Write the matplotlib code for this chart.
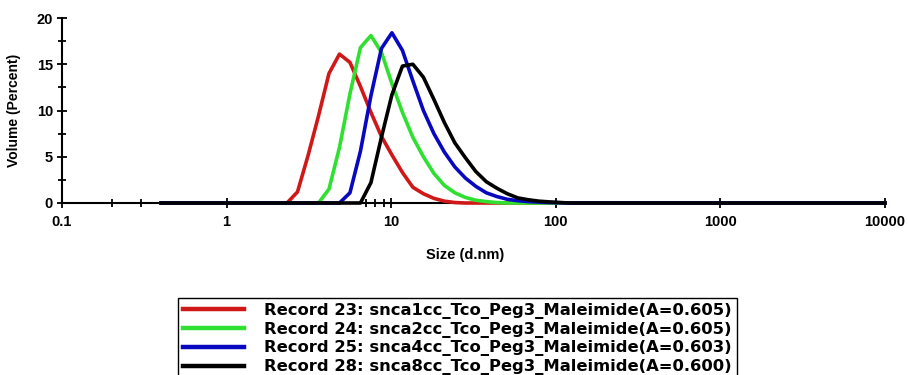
import matplotlib
matplotlib.use("Agg")
import matplotlib.pyplot as plt
from matplotlib.ticker import FixedLocator, NullFormatter

plt.rcParams['font.family'] = ['Liberation Sans', 'DejaVu Sans']

# Size bins (d.nm) of the size distribution
sizes = [0.4, 0.4632, 0.5365, 0.6213, 0.7195, 0.8332, 0.9649, 1.117, 1.294, 1.499,
         1.736, 2.010, 2.328, 2.696, 3.122, 3.615, 4.187, 4.849, 5.615, 6.503,
         7.531, 8.721, 10.10, 11.70, 13.54, 15.69, 18.17, 21.04, 24.36, 28.21,
         32.67, 37.84, 43.82, 50.75, 58.77, 68.06, 78.82, 91.28, 105.7, 122.4,
         141.8, 164.2, 190.1, 220.2, 255.0, 295.3, 342.0, 396.1, 458.7, 531.2,
         615.1, 712.4, 825.0, 955.4, 1106, 1281, 1484, 1718, 1990, 2305,
         2669, 3091, 3580, 4145, 4801, 5560, 6439, 7456, 8635, 10000]

# Volume (%) per bin for each record
record23 = [0, 0, 0, 0, 0, 0, 0, 0, 0, 0,
            0, 0, 0, 1.2, 5.1, 9.4, 14.0, 16.1, 15.2, 12.6,
            9.8, 7.2, 5.2, 3.3, 1.7, 1.0, 0.5, 0.2, 0.05, 0,
            0, 0, 0, 0, 0, 0, 0, 0, 0, 0,
            0, 0, 0, 0, 0, 0, 0, 0, 0, 0,
            0, 0, 0, 0, 0, 0, 0, 0, 0, 0,
            0, 0, 0, 0, 0, 0, 0, 0, 0, 0]
record24 = [0, 0, 0, 0, 0, 0, 0, 0, 0, 0,
            0, 0, 0, 0, 0, 0, 1.5, 6.0, 11.8, 16.8,
            18.1, 16.3, 12.9, 9.8, 7.1, 5.0, 3.2, 1.9, 1.1, 0.6,
            0.3, 0.15, 0.05, 0, 0, 0, 0, 0, 0, 0,
            0, 0, 0, 0, 0, 0, 0, 0, 0, 0,
            0, 0, 0, 0, 0, 0, 0, 0, 0, 0,
            0, 0, 0, 0, 0, 0, 0, 0, 0, 0]
record25 = [0, 0, 0, 0, 0, 0, 0, 0, 0, 0,
            0, 0, 0, 0, 0, 0, 0, 0, 1.1, 5.6,
            11.6, 16.7, 18.4, 16.5, 13.2, 10.0, 7.5, 5.5, 3.9, 2.7,
            1.8, 1.1, 0.7, 0.4, 0.25, 0.15, 0.1, 0.05, 0.03, 0,
            0, 0, 0, 0, 0, 0, 0, 0, 0, 0,
            0, 0, 0, 0, 0, 0, 0, 0, 0, 0,
            0, 0, 0, 0, 0, 0, 0, 0, 0, 0]
record28 = [0, 0, 0, 0, 0, 0, 0, 0, 0, 0,
            0, 0, 0, 0, 0, 0, 0, 0, 0, 0,
            2.2, 7.1, 11.7, 14.8, 15.0, 13.6, 11.2, 8.7, 6.5, 4.9,
            3.4, 2.3, 1.6, 1.0, 0.55, 0.35, 0.2, 0.12, 0.05, 0,
            0, 0, 0, 0, 0, 0, 0, 0, 0, 0,
            0, 0, 0, 0, 0, 0, 0, 0, 0, 0,
            0, 0, 0, 0, 0, 0, 0, 0, 0, 0]

labels = [
    "Record 23: snca1cc_Tco_Peg3_Maleimide(A=0.605)",
    "Record 24: snca2cc_Tco_Peg3_Maleimide(A=0.605)",
    "Record 25: snca4cc_Tco_Peg3_Maleimide(A=0.603)",
    "Record 28: snca8cc_Tco_Peg3_Maleimide(A=0.600)",
]
colors = ["#d01818", "#30e030", "#0808c0", "#000000"]

x_ticks = [0.1, 1, 10, 100, 1000, 10000]
x_ticklabels = ["0.1", "1", "10", "100", "1000", "10000"]
y_ticks = [0, 5, 10, 15, 20]

W, H = 908, 375
fig = plt.figure(figsize=(W / 100, H / 100), dpi=100)
ax = fig.add_axes([62 / W, 1 - 203 / H, (885 - 62) / W, (203 - 18) / H])

for vals, col, lab in zip([record23, record24, record25, record28], colors, labels):
    ax.plot(sizes, vals, color=col, lw=2.6, label=lab, clip_on=False,
            solid_joinstyle='round', zorder=3)

ax.set_xscale('log')
ax.set_xlim(0.1, 10000)
ax.set_ylim(0, 20)

ax.xaxis.set_major_locator(FixedLocator(x_ticks))
ax.set_xticklabels(x_ticklabels)
ax.xaxis.set_minor_locator(FixedLocator([0.2, 0.3, 7, 8, 9]))
ax.xaxis.set_minor_formatter(NullFormatter())
ax.yaxis.set_major_locator(FixedLocator(y_ticks))
ax.yaxis.set_minor_locator(FixedLocator([2.5, 7.5, 12.5, 17.5]))

for side in ('top', 'right'):
    ax.spines[side].set_visible(False)
for side in ('left', 'bottom'):
    ax.spines[side].set_linewidth(1.5)
    ax.spines[side].set_color('black')

ax.tick_params(axis='both', which='both', direction='inout', color='black', width=1.3)
ax.tick_params(axis='both', which='major', length=7, labelsize=10.5)
ax.tick_params(axis='both', which='minor', length=6)
ax.tick_params(axis='x', which='major', pad=5)
ax.tick_params(axis='y', which='major', pad=3)
for t in ax.get_xticklabels() + ax.get_yticklabels():
    t.set_fontweight('bold')

ax.set_xlabel("Size (d.nm)", fontsize=10.5, fontweight='bold')
ax.xaxis.set_label_coords(0.49, -0.245)
ax.set_ylabel("Volume (Percent)", fontsize=10, fontweight='bold')
ax.yaxis.set_label_coords(-0.05, 0.5)

leg = fig.legend(loc='upper left', bbox_to_anchor=(178 / W, 1 - 298 / H),
                 bbox_transform=fig.transFigure, frameon=True, fancybox=False,
                 edgecolor='black', framealpha=1, borderaxespad=0,
                 borderpad=0.3, handlelength=3.7, handletextpad=1.25,
                 labelspacing=0.17,
                 prop={'family': 'DejaVu Sans', 'weight': 'bold', 'size': 11.8})
leg.get_frame().set_linewidth(1.0)
for ln in leg.get_lines():
    ln.set_linewidth(3.2)

fig.savefig("out.png", dpi=100)
